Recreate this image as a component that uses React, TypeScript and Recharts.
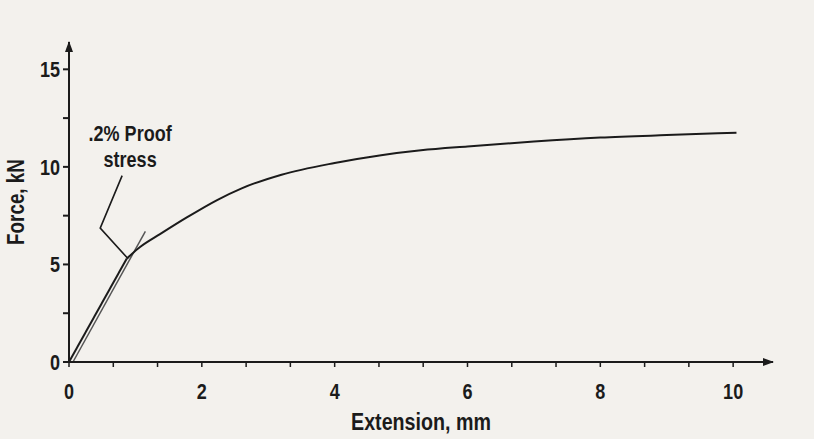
import { ComposedChart, Line, XAxis, YAxis, ReferenceDot } from 'recharts'

// elastic part, 0 to the proof point
const elasticExt = [0, 0.87]
const elasticForce = [0, 5.3]
// plastic curve
const curveExt = [0.87, 1.07, 1.37, 1.78, 2.23, 2.6, 3.2, 4, 4.7, 5.3, 6, 7, 8, 9, 10.05]
const curveForce = [5.3, 5.89, 6.55, 7.42, 8.3, 8.9, 9.6, 10.2, 10.6, 10.85, 11.05, 11.3, 11.5, 11.63, 11.75]
// 0.2% offset line
const offsetExt = [0.06, 1.15]
const offsetForce = [0, 6.7]
// leader line from the note to the curve
const leaderExt = [0.8, 0.47, 0.89]
const leaderForce = [9.55, 6.86, 5.29]

const xTicks = [0, 0.667, 1.333, 2, 2.667, 3.333, 4, 4.667, 5.333, 6, 6.667, 7.333, 8, 8.667, 9.333, 10]
const yTicks = [0, 2.5, 5, 7.5, 10, 12.5, 15]
const xMax = 10.6
const yMax = 16.4

const FONT = "'Liberation Sans', Arimo, Arial, sans-serif"
const INK = '#1b1b1b'

const pts = (xs: number[], ys: number[]) => xs.map((x, i) => ({ x, y: ys[i] }))

const fmtX = (v: number) => {
  const r = Math.round(v)
  return Math.abs(v - r) < 0.01 && r % 2 === 0 ? String(r) : ''
}
const fmtY = (v: number) => (Math.abs(v % 5) < 0.01 ? String(v) : '')

// condensed bold text: regular sans squeezed sideways
function NText({ x, y, anchor = 'middle', size = 22, rotate = false, children }: any) {
  return (
    <text
      transform={`translate(${x},${y})${rotate ? ' rotate(-90)' : ''} scale(0.82,1)`}
      textAnchor={anchor}
      fill={INK}
      fontFamily={FONT}
      fontWeight={700}
      fontSize={size}
    >
      {children}
    </text>
  )
}

export default function App() {
  return (
    <div style={{ position: 'fixed', left: 0, top: 0, width: 814, height: 439, background: '#f3f1ed' }}>
      <ComposedChart width={814} height={439} margin={{ top: 42, right: 41, bottom: 37, left: 0 }}>
        <XAxis
          type="number"
          dataKey="x"
          domain={[0, xMax]}
          ticks={xTicks}
          interval={0}
          height={40}
          tickSize={5}
          tickMargin={16}
          axisLine={{ stroke: INK, strokeWidth: 2 }}
          tickLine={{ stroke: INK, strokeWidth: 1.5 }}
          tick={(p: any) => (
            <NText x={p.x} y={p.y + 16}>{fmtX(p.payload.value)}</NText>
          )}
          label={(p: any) => {
            const vb = p.viewBox
            return <NText x={vb.x + vb.width * (5.3 / xMax)} y={vb.y + 68} size={24}>Extension, mm</NText>
          }}
        />
        <YAxis
          type="number"
          domain={[0, yMax]}
          ticks={yTicks}
          interval={0}
          width={69}
          tickSize={6}
          tickMargin={3}
          axisLine={{ stroke: INK, strokeWidth: 2 }}
          tickLine={{ stroke: INK, strokeWidth: 2 }}
          tick={(p: any) => (
            <NText x={p.x} y={p.y + 8} anchor="end">{fmtY(p.payload.value)}</NText>
          )}
          label={(p: any) => {
            const vb = p.viewBox
            return <NText x={vb.x + 24} y={vb.y + vb.height * 0.5} size={23} rotate>Force, kN</NText>
          }}
        />
        <Line data={pts(elasticExt, elasticForce)} dataKey="y" type="linear" stroke={INK} strokeWidth={2}
          dot={false} activeDot={false} isAnimationActive={false} />
        <Line data={pts(offsetExt, offsetForce)} dataKey="y" type="linear" stroke="#555" strokeWidth={1.5}
          dot={false} activeDot={false} isAnimationActive={false} />
        <Line data={pts(curveExt, curveForce)} dataKey="y" type="monotone" stroke={INK} strokeWidth={2}
          dot={false} activeDot={false} isAnimationActive={false} />
        <Line data={pts(leaderExt, leaderForce)} dataKey="y" type="linear" stroke={INK} strokeWidth={1.6}
          dot={false} activeDot={false} isAnimationActive={false} />
        <ReferenceDot x={0.92} y={11.35} ifOverflow="visible"
          shape={(p: any) => <NText x={p.cx} y={p.cy}>.2% Proof</NText>}
        />
        <ReferenceDot x={0.92} y={10.0} ifOverflow="visible"
          shape={(p: any) => <NText x={p.cx} y={p.cy}>stress</NText>}
        />
        <ReferenceDot x={0} y={yMax} ifOverflow="visible"
          shape={(p: any) => <path d={`M${p.cx},${p.cy - 1} L${p.cx - 4},${p.cy + 10} L${p.cx + 4},${p.cy + 10} Z`} fill={INK} />}
        />
        <ReferenceDot x={xMax} y={0} ifOverflow="visible"
          shape={(p: any) => <path d={`M${p.cx + 1},${p.cy} L${p.cx - 10},${p.cy - 4} L${p.cx - 10},${p.cy + 4} Z`} fill={INK} />}
        />
      </ComposedChart>
    </div>
  )
}
